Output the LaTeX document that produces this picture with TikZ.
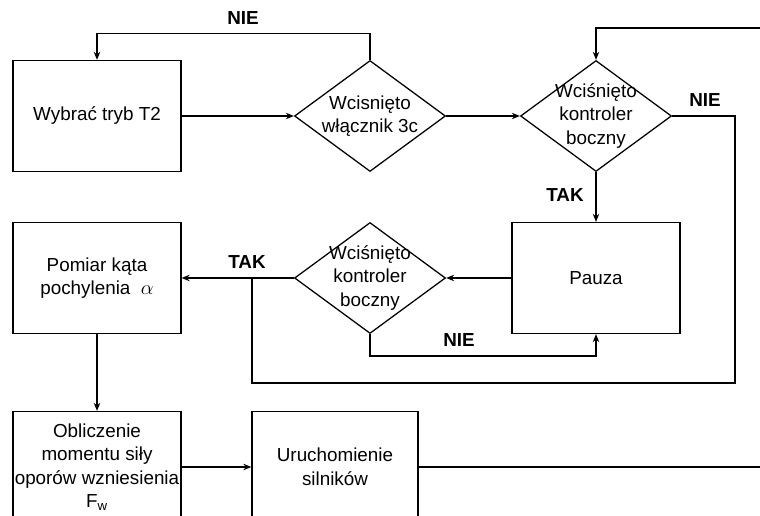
\documentclass[tikz,border=0pt]{standalone}
\usepackage{fontspec}
\setmainfont{Liberation Sans}
\usetikzlibrary{shapes.geometric,arrows.meta}

\begin{document}
\begin{tikzpicture}[
    every node/.style={font=\fontsize{13.4}{16.7}\selectfont},
    block/.style={draw, line width=0.9pt, minimum width=4.2cm, minimum height=2.775cm, align=center, inner sep=0pt},
    decision/.style={draw, diamond, line width=0.9pt, minimum width=3.775cm, minimum height=2.775cm, inner sep=0pt},
    flow/.style={line width=0.9pt},
    arrow/.style={flow, -{Stealth[length=2mm,width=1.6mm]}},
    answer/.style={font=\fontsize{13.4}{16.7}\selectfont\bfseries}
  ]
    % frame
    \clip (0, 0) rectangle (19, 12.875);
    % first row
    \node [block] (tryb) at (2.425, 9.975) {Wybrać tryb T2};
    \node [decision, label={[align=center]center:{Wcisnięto\\włącznik 3c}}] (wlacznik) at (9.25, 9.975) {};
    \node [decision, label={[align=center]center:{Wciśnięto\\kontroler\\boczny}}] (kontroler) at (14.9, 9.975) {};
    % second row
    \node [block] (pomiar) at (2.425, 5.925) {Pomiar kąta\\pochylenia~~$\alpha$};
    \node [decision, label={[align=center]center:{Wciśnięto\\kontroler\\boczny}}] (kontroler2) at (9.25, 5.925) {};
    \node [block] (pauza) at (14.9, 5.925) {Pauza};
    % third row
    \node [block] (moment) at (2.425, 1.2) {Obliczenie\\momentu siły\\oporów wzniesienia\\F\textsubscript{w}};
    \node [block, minimum width=4.15cm] (silniki) at (8.375, 1.2) {Uruchomienie\\silników};
    % free ends and corners
    \coordinate (wejscie) at (19, 12.175);
    \coordinate (wyjscie) at (19, 1.2);
    \coordinate (rog) at (18.375, 3.3);
    \coordinate (zlacze) at (6.3, 5.925);
    %
    \draw [arrow] (tryb) -- (wlacznik);
    \draw [arrow] (wlacznik) -- (kontroler);
    \draw [arrow] (wlacznik.north) -- ++(0, 0.65) -| (tryb.north);
    \node [answer] (nie1) at (6.075, 12.425) {NIE};
    %
    \draw [arrow] (wejscie) -| (kontroler.north);
    \draw [flow] (kontroler.east) -| (rog) -| (zlacze);
    \node [answer] (nie2) at (17.625, 10.375) {NIE};
    %
    \draw [arrow] (kontroler.south) -- (pauza.north);
    \node [answer] (tak1) at (14.125, 8.0) {TAK};
    %
    \draw [arrow] (pauza.west) -- (kontroler2.east);
    \draw [arrow] (kontroler2.west) -- (pomiar.east);
    \node [answer] (tak2) at (6.175, 6.325) {TAK};
    %
    \draw [arrow] (kontroler2.south) -- ++(0, -0.55) -| (pauza.south);
    \node [answer] (nie3) at (11.475, 4.375) {NIE};
    %
    \draw [arrow] (pomiar.south) -- (moment.north);
    \draw [arrow] (moment.east) -- (silniki.west);
    \draw [flow] (silniki.east) -- (wyjscie);
  \end{tikzpicture}
\end{document}
